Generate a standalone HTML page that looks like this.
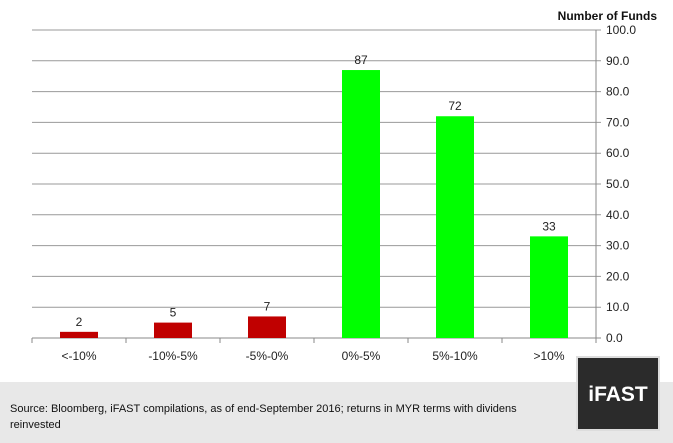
<!DOCTYPE html>
<html><head><meta charset="utf-8"><style>
body{margin:0;width:673px;height:443px;overflow:hidden;background:#fff;font-family:"Liberation Sans",sans-serif}
#footer{position:absolute;left:0;top:382px;width:673px;height:61px;background:#e8e8e8}
#src{position:absolute;left:10px;top:401px;font-size:11px;color:#111;line-height:16px;width:560px}
#logo{position:absolute;left:576px;top:356px;width:84px;height:75px;background:#2b2b2b;border:2px solid #ddd;box-sizing:border-box;color:#fff;font-weight:bold;font-size:21px;text-align:center;line-height:73px}
svg{position:absolute;left:0;top:0}
</style></head><body>
<div id="footer"></div>
<div id="src">Source: Bloomberg, iFAST compilations, as of end-September 2016; returns in MYR terms with dividens reinvested</div>
<div id="logo">iFAST</div>
<svg id="chart" width="673" height="382"></svg>
<script>
const categories=["<-10%","-10%-5%","-5%-0%","0%-5%","5%-10%",">10%"];
const values=[2,5,7,87,72,33];
const colors=["#c00000","#c00000","#c00000","#00ff00","#00ff00","#00ff00"];
const ticks=[0,10,20,30,40,50,60,70,80,90,100];
const svg=document.getElementById('chart');
const NS='http://www.w3.org/2000/svg';
const x0=32,x1=596,y0=338,y1=30;
const y=v=>y0-(v/100)*(y0-y1);
const bw=(x1-x0)/categories.length;
function mk(t,a,txt){const e=document.createElementNS(NS,t);for(const k in a)e.setAttribute(k,a[k]);if(txt!==undefined)e.textContent=txt;svg.appendChild(e);return e;}
ticks.forEach(v=>{
 const g=mk('line',{x1:x0,x2:x1+5,y1:y(v),y2:y(v),stroke:v===0?'#888':'#999','stroke-width':1});
 
 
 const t=mk('text',{x:606,y:y(v)+4,'font-size':12,fill:'#222'},v.toFixed(1));
 
 
});
const ax=mk('line',{x1:x1,x2:x1,y1:y1,y2:y0,stroke:'#888'});


for(let i=0;i<=categories.length;i++){
 const tk=mk('line',{x1:x0+i*bw,x2:x0+i*bw,y1:y0,y2:y0+5,stroke:'#888'});
 
 
}
categories.forEach((c,i)=>{
 const cx=x0+bw*(i+0.5);
 const r=mk('rect',{x:cx-19,y:y(values[i]),width:38,height:y0-y(values[i]),fill:colors[i]});
 
 
 const l=mk('text',{x:cx,y:y(values[i])-6,'font-size':12,'text-anchor':'middle',fill:'#222'},String(values[i]));
 
 
 const xl=mk('text',{x:cx,y:360,'font-size':12,'text-anchor':'middle',fill:'#222'},c);
 
 
});
const tt=mk('text',{x:657,y:20,'font-size':12,'font-weight':'bold','text-anchor':'end',fill:'#111'},'Number of Funds');


</script>
</body></html>
